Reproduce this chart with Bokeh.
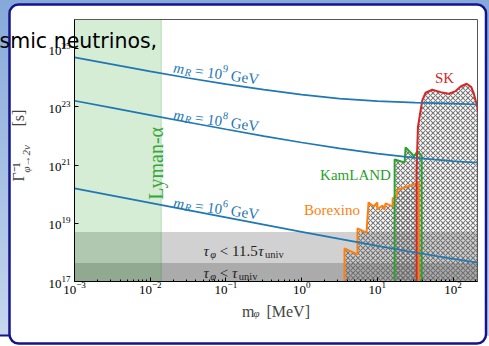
import math
from urllib.parse import quote
from bokeh.plotting import figure
from bokeh.models import FixedTicker, Label, Title
from bokeh.embed import file_html
from bokeh.resources import INLINE

# ---------------- data ----------------
X_MIN, X_MAX = 1e-3, 2.1e2
Y_MIN, Y_MAX = 1e17, 1e26

m_grid = [1e-3, 3.16e-3, 1e-2, 3.16e-2, 1e-1, 3.16e-1, 1.0, 3.16, 10.0, 31.6, 100.0, 215.0]
gamma_inv_mR9 = [5.0e24, 2.87e24, 1.66e24, 9.8e23, 6.0e23, 3.88e23, 2.62e23, 1.90e23, 1.58e23, 1.39e23, 1.28e23, 1.20e23]
gamma_inv_mR8 = [1.62e23, 9.15e22, 5.19e22, 2.95e22, 1.70e22, 9.9e21, 5.95e21, 3.72e21, 2.46e21, 1.76e21, 1.36e21, 1.20e21]
gamma_inv_mR6 = [1.59e20, 8.9e19, 5.0e19, 2.82e19, 1.59e19, 9.0e18, 5.1e18, 2.91e18, 1.68e18, 9.9e17, 6.0e17, 4.4e17]

borexino_m = [3.68, 3.68, 5.46, 5.46, 7.18, 7.64, 8.9, 10.0, 10.0, 11.7, 12.4, 12.8, 15.9, 15.9, 17.9, 18.5, 33.9, 34.9, 34.9]
borexino_g = [1e17, 1.36e18, 8.5e17, 6.6e18, 4.8e18, 5.2e19, 3.8e19, 5.2e19, 3.0e19, 4.1e19, 3.0e19, 4.8e19, 3.8e19, 7.1e19, 8.3e19, 1.45e20, 2.33e20, 2.73e20, 1e17]

kamland_m = [16.9, 16.9, 22.9, 23.6, 28.3, 30.1, 34.0, 38.4, 38.4]
kamland_g = [1e17, 1.56e21, 1.23e21, 4.03e21, 2.51e21, 1.98e21, 2.93e21, 2.14e21, 1e17]

sk_m = [32.9, 32.9, 34.3, 37.2, 39.2, 43.3, 53.1, 68.4, 88.1, 108.0, 126.0, 151.0, 174.0, 188.0, 209.0, 240.0, 240.0]
sk_g = [1e17, 6.5e20, 2.0e22, 7.5e22, 1.66e23, 3.05e23, 3.87e23, 3.2e23, 2.82e23, 3.47e23, 5.0e23, 6.2e23, 4.75e23, 2.82e23, 9.8e22, 1.0e22, 1e17]

tau_univ = 4.35e17
tau_univ_115 = 5.0e18
lyman_cut = 0.014

x_major = [1e-3, 1e-2, 1e-1, 1e0, 1e1, 1e2]
x_minor = [k * 10.0 ** e for e in range(-3, 3) for k in range(2, 10)]
y_major = [1e17, 1e19, 1e21, 1e23, 1e25]

# ---------------- layout ----------------
W, H = 489, 346
FL, FT, FR, FB = 74, 19, 12, 65
FH = H - FT - FB
NB = "\u00a0"

BLUE, ORANGE, GREEN, RED = "#1f77b4", "#ff7f0e", "#2ca02c", "#d62728"
SERIF = "Liberation Serif"

p = figure(width=W, height=H, x_axis_type="log", y_axis_type="log",
           x_range=(X_MIN, X_MAX), y_range=(Y_MIN, Y_MAX),
           min_border_left=FL, min_border_right=FR, min_border_top=FT, min_border_bottom=FB,
           output_backend="svg", toolbar_location=None)

# slide frame drawn as the page element's background; canvas border is transparent
frame_svg = (
    "<svg xmlns='http://www.w3.org/2000/svg' width='489' height='346'>"
    "<defs><linearGradient id='g' x1='0' y1='0' x2='0' y2='1'>"
    "<stop offset='0' stop-color='#86a9da'/><stop offset='1' stop-color='#c6d6ee'/>"
    "</linearGradient></defs>"
    "<rect width='489' height='346' fill='white'/>"
    "<rect width='489' height='336' fill='url(#g)'/>"
    "<rect x='0' y='334.5' width='10' height='2' fill='#14148c'/>"
    "<rect x='9.5' y='4.5' width='476.5' height='339' rx='9' fill='white' stroke='#14148c' stroke-width='2.5'/>"
    "</svg>")
p.styles = {"background-image": "url(\"data:image/svg+xml," + quote(frame_svg, safe="") + "\")",
            "background-repeat": "no-repeat"}
p.border_fill_alpha = 0
p.background_fill_color = "white"
p.outline_line_color = "#555555"
p.outline_line_width = 1
p.xgrid.visible = False
p.ygrid.visible = False

p.xaxis.ticker = FixedTicker(ticks=x_major, minor_ticks=x_minor)
p.yaxis.ticker = FixedTicker(ticks=y_major, minor_ticks=[])
for ax in (p.xaxis, p.yaxis):
    ax.major_tick_in = 4
    ax.major_tick_out = 0
    ax.minor_tick_in = 2
    ax.minor_tick_out = 0
    ax.axis_line_color = "black"
    ax.major_tick_line_color = "black"
    ax.minor_tick_line_color = "black"
    ax.major_label_text_font = SERIF
    ax.major_label_text_font_size = "13px"
    ax.major_label_text_color = "black"
p.xaxis.major_label_standoff = 0
p.yaxis.major_label_standoff = 4

# axis labels (main parts in the axis, sub/superscript parts as side titles)
p.xaxis.axis_label = "m" + NB * 3 + "[MeV]"
p.xaxis.axis_label_text_font = SERIF
p.xaxis.axis_label_text_font_size = "16px"
p.xaxis.axis_label_text_font_style = "normal"
p.xaxis.axis_label_standoff = 6
p.add_layout(Title(text="φ", text_font=SERIF, text_font_size="11px", text_font_style="italic",
                   align="left", offset=179, vertical_align="top", standoff=-31), "below")

p.yaxis.axis_label = "φ→2ν" + NB * 6
p.yaxis.axis_label_text_font = SERIF
p.yaxis.axis_label_text_font_size = "11px"
p.yaxis.axis_label_text_font_style = "italic"
p.yaxis.axis_label_standoff = 13
p.add_layout(Title(text="Γ⁻¹" + NB * 9 + "[s]", text_font=SERIF, text_font_size="16px",
                   text_font_style="normal", align="left", offset=100,
                   vertical_align="bottom", standoff=-19), "left")

# slide title fragment that overlaps the chart
p.title.text = "smic neutrinos,"
p.title.text_font = "DejaVu Sans"
p.title.text_font_size = "20.5px"
p.title.text_font_style = "normal"
p.title.text_color = "black"
p.title.align = "left"
p.title.offset = -75
p.title.vertical_align = "bottom"
p.title.standoff = -66

# bands and Lyman-alpha region
p.quad(left=X_MIN, right=X_MAX, bottom=Y_MIN, top=tau_univ_115, fill_color="black", fill_alpha=0.18, line_alpha=0)
p.quad(left=X_MIN, right=X_MAX, bottom=Y_MIN, top=tau_univ, fill_color="black", fill_alpha=0.18, line_alpha=0)
p.quad(left=X_MIN, right=lyman_cut, bottom=Y_MIN, top=Y_MAX, fill_color=GREEN, fill_alpha=0.2,
       line_color=GREEN, line_alpha=0.25, line_width=1)

# hatched excluded regions
for xs, ys in ((borexino_m, borexino_g), (kamland_m, kamland_g), (sk_m, sk_g)):
    p.patch(xs, ys, fill_alpha=0, line_alpha=0, hatch_pattern="diagonal_cross",
            hatch_color="#6a6a6a", hatch_scale=5, hatch_weight=1.1, hatch_alpha=0.9)

p.line(borexino_m, borexino_g, line_color=ORANGE, line_width=2)
p.line(kamland_m, kamland_g, line_color=GREEN, line_width=2)
p.line(sk_m, sk_g, line_color=RED, line_width=2)

for g in (gamma_inv_mR9, gamma_inv_mR8, gamma_inv_mR6):
    p.line(m_grid, g, line_color=BLUE, line_width=1.7)

# ---------------- in-frame texts ----------------
CW = {' ': .25, '.': .25, ',': .25, '=': .564, '<': .564, '[': .333, ']': .333, '-': .333,
      'G': .722, 'e': .444, 'V': .722, 'M': .889, 'u': .5, 'n': .5, 'i': .278, 'v': .5, 's': .389,
      'S': .556, 'K': .722, 'a': .444, 'm': .778, 'L': .611, 'A': .722, 'N': .722, 'D': .722,
      'B': .667, 'o': .5, 'r': .333, 'x': .5, 'y': .5, 'Γ': .6, '−': .564, '→': 1.0, 'α': .55,
      'τ': .45, 'φ': .55, 'ν': .45, 'R': .611}


def tw(s, size):
    return sum(CW.get(c, 0.5) for c in s) * size


def put(pieces, X, Y, angle=0.0, color="black", align="left"):
    """pieces: (text, size, italic, dy). X, Y: canvas px of the baseline start."""
    total = sum(tw(t, s) for t, s, it, dy in pieces)
    adv = -total / 2 if align == "center" else 0.0
    ca, sa = math.cos(angle), math.sin(angle)
    for t, s, it, dy in pieces:
        body = t.lstrip(" ")
        adv += (len(t) - len(body)) * CW[" "] * s
        cx = X + adv * ca - dy * sa
        cy = Y - adv * sa - dy * ca
        p.add_layout(Label(x=cx - FL, y=FT + FH - cy, x_units="screen", y_units="screen",
                           text=body.rstrip(" "), text_font=SERIF, text_font_size=f"{s}px",
                           text_font_style="italic" if it else "normal",
                           text_color=color, angle=angle,
                           text_align="left", text_baseline="alphabetic"))
        adv += tw(body, s)


ang = -0.14
for lab, yb in (("9", 67), ("8", 114), ("6", 202)):
    put([("m", 15, True, 0), ("R", 10.5, True, -3), (" = 10", 15, False, 0),
         (lab, 10.5, False, 6), (" GeV", 15, False, 0)], 173, yb, ang, BLUE)

put([("τ", 15, True, 0), ("φ", 10.5, True, -3), (" < 11.5", 15, False, 0),
     ("τ", 15, True, 0), ("univ", 10.5, False, -3)], 203, 250.5, 0.0, "#222222")
put([("τ", 15, True, 0), ("φ", 10.5, True, -3), (" < ", 15, False, 0),
     ("τ", 15, True, 0), ("univ", 10.5, False, -3)], 203, 272.5, 0.0, "#222222")

put([("SK", 15, False, 0)], 444, 77, 0.0, RED, "center")
put([("KamLAND", 15, False, 0)], 355, 174, 0.0, GREEN, "center")
put([("Borexino", 15, False, 0)], 331.5, 209, 0.0, ORANGE, "center")
put([("Lyman-α", 20, False, 0)], 155, 162, math.pi / 2, "#3aa63a", "center")

open("out.html", "w").write(file_html(p, INLINE))
